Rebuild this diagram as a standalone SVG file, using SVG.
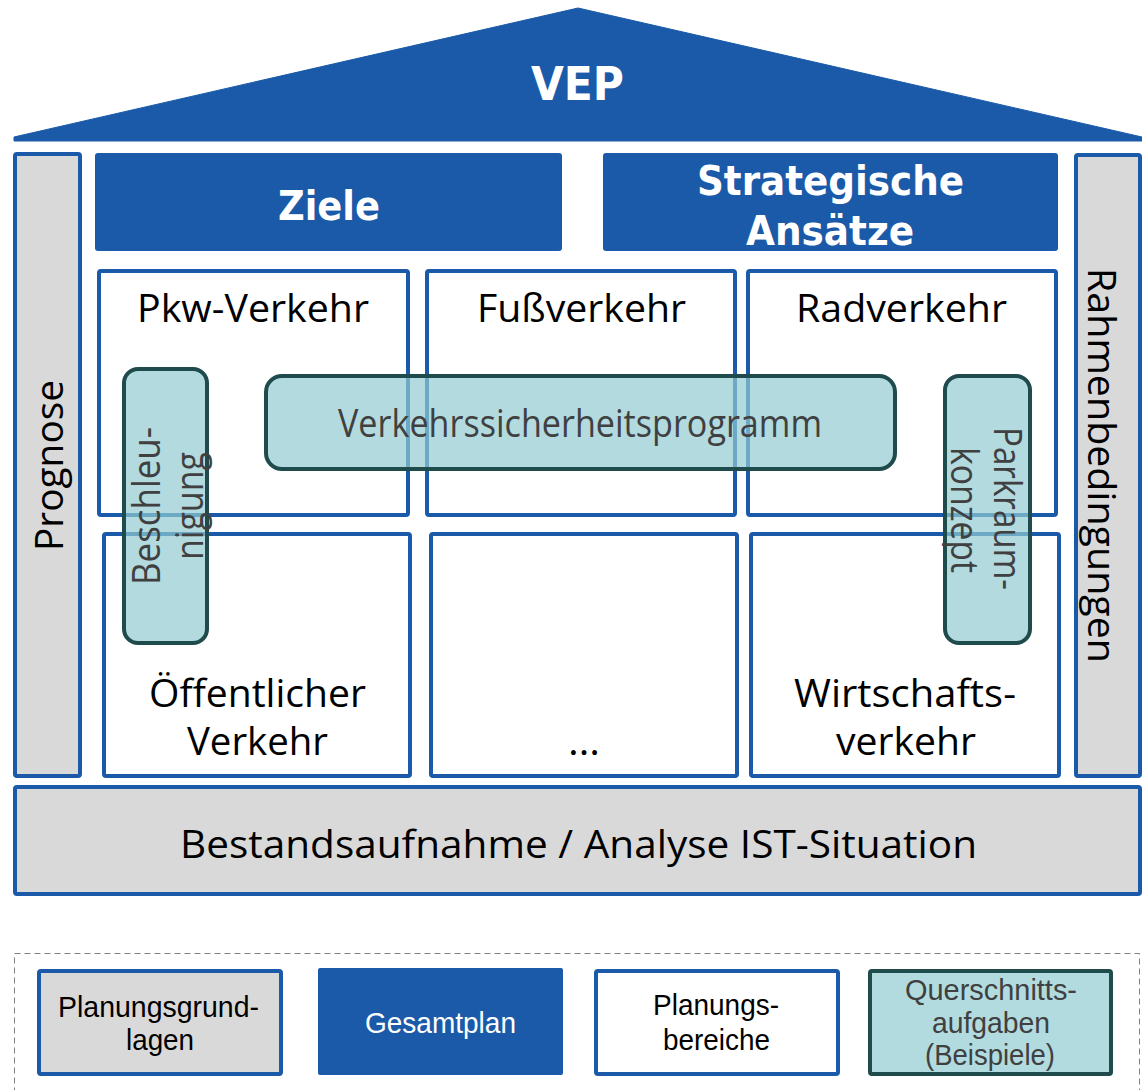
<svg xmlns="http://www.w3.org/2000/svg" width="1142" height="1090" viewBox="0 0 1142 1090">
<style>
.blue{fill:#1A5AA8}
.gray{fill:#D9D9D9;stroke:#1A5AA8;stroke-width:4}
.white{fill:#FFFFFF;stroke:#1A5AA8;stroke-width:4}
.teal{fill:#91CBD1;fill-opacity:0.7;stroke:#1F4B4C;stroke-width:4}
.tealL{fill:#B2DBDF;stroke:#1F4B4C;stroke-width:4}
.bold{font-family:"DejaVu Sans",Verdana,sans-serif;font-weight:bold;fill:#FFFFFF}
.lab{font-family:"Open Sans","DejaVu Sans",sans-serif;font-size:38px;fill:#000000}
.tlab{font-family:"Open Sans","DejaVu Sans",sans-serif;font-size:38px;fill:#404040}
.leg{font-family:"Liberation Sans",Arial,sans-serif;font-size:30px;fill:#000000}
</style>
<rect width="1142" height="1090" fill="#FFFFFF"/>

<g id="roof">
<polygon class="blue" points="14,137 578,8 1142,137 1142,141 14,141" stroke="#1A5AA8" stroke-width="1" stroke-linejoin="round"/>
<text class="bold" x="531" y="100" font-size="46" textLength="93" lengthAdjust="spacingAndGlyphs">VEP</text>
</g>

<g id="ziele">
<rect class="blue" x="95" y="153" width="467" height="98" rx="3"/>
<text class="bold" x="278" y="220" font-size="40" textLength="102" lengthAdjust="spacingAndGlyphs">Ziele</text>
</g>

<g id="strategische-ansaetze">
<rect class="blue" x="603" y="153" width="455" height="98" rx="3"/>
<text class="bold" x="697" y="195" font-size="40" textLength="267" lengthAdjust="spacingAndGlyphs">Strategische</text>
<text class="bold" x="746" y="245" font-size="40" textLength="168" lengthAdjust="spacingAndGlyphs">Ansätze</text>
</g>

<g id="prognose">
<rect class="gray" x="15" y="154" width="65" height="622" rx="2"/>
<text class="lab" transform="translate(63,551) rotate(-90)" textLength="171" lengthAdjust="spacingAndGlyphs">Prognose</text>
</g>

<g id="rahmenbedingungen">
<rect class="gray" x="1076" y="155" width="64" height="621" rx="2"/>
<text class="lab" transform="translate(1088,268) rotate(90)" textLength="395" lengthAdjust="spacingAndGlyphs">Rahmenbedingungen</text>
</g>

<g id="pkw-verkehr">
<rect class="white" x="99" y="271" width="309" height="244" rx="2"/>
<text class="lab" x="137" y="322" textLength="232" lengthAdjust="spacingAndGlyphs">Pkw-Verkehr</text>
</g>

<g id="fussverkehr">
<rect class="white" x="427" y="271" width="308" height="244" rx="2"/>
<text class="lab" x="477" y="322" textLength="209" lengthAdjust="spacingAndGlyphs">Fußverkehr</text>
</g>

<g id="radverkehr">
<rect class="white" x="748" y="271" width="308" height="244" rx="2"/>
<text class="lab" x="796" y="322" textLength="211" lengthAdjust="spacingAndGlyphs">Radverkehr</text>
</g>

<g id="oeffentlicher-verkehr">
<rect class="white" x="104" y="534" width="306" height="242" rx="2"/>
<text class="lab" x="149" y="707" textLength="217" lengthAdjust="spacingAndGlyphs">Öffentlicher</text>
<text class="lab" x="187" y="755" textLength="141" lengthAdjust="spacingAndGlyphs">Verkehr</text>
</g>

<g id="weitere">
<rect class="white" x="431" y="534" width="306" height="242" rx="2"/>
<text class="lab" x="568" y="755" textLength="32" lengthAdjust="spacingAndGlyphs">…</text>
</g>

<g id="wirtschaftsverkehr">
<rect class="white" x="751" y="534" width="308" height="242" rx="2"/>
<text class="lab" x="794" y="707" textLength="222" lengthAdjust="spacingAndGlyphs">Wirtschafts-</text>
<text class="lab" x="836" y="755" textLength="140" lengthAdjust="spacingAndGlyphs">verkehr</text>
</g>

<g id="bestandsaufnahme">
<rect class="gray" x="15" y="787" width="1125" height="107" rx="2"/>
<text class="lab" x="180" y="858" font-size="42" textLength="797" lengthAdjust="spacingAndGlyphs">Bestandsaufnahme / Analyse IST-Situation</text>
</g>

<g id="beschleunigung">
<rect class="teal" x="124" y="369" width="83" height="274" rx="14"/>
<text class="tlab" transform="translate(160,585) rotate(-90)" textLength="158" lengthAdjust="spacingAndGlyphs">Beschleu-</text>
<text class="tlab" transform="translate(203,560) rotate(-90)" textLength="108" lengthAdjust="spacingAndGlyphs">nigung</text>
</g>

<g id="verkehrssicherheitsprogramm">
<rect class="teal" x="266" y="376" width="629" height="93" rx="16"/>
<text class="tlab" x="338" y="437" textLength="484" lengthAdjust="spacingAndGlyphs">Verkehrssicherheitsprogramm</text>
</g>

<g id="parkraumkonzept">
<rect class="teal" x="945" y="376" width="85" height="267" rx="14"/>
<text class="tlab" transform="translate(994,427) rotate(90)" textLength="163" lengthAdjust="spacingAndGlyphs">Parkraum-</text>
<text class="tlab" transform="translate(951,447) rotate(90)" textLength="126" lengthAdjust="spacingAndGlyphs">konzept</text>
</g>

<g id="legend">
<rect x="14.5" y="953.5" width="1125" height="145" fill="none" stroke="#808080" stroke-width="1" stroke-dasharray="6,4"/>
<g id="legend-planungsgrundlagen">
<rect class="gray" x="39" y="971" width="242" height="103" rx="2"/>
<text class="leg" x="58" y="1017" textLength="201" lengthAdjust="spacingAndGlyphs">Planungsgrund-</text>
<text class="leg" x="126" y="1050" textLength="68" lengthAdjust="spacingAndGlyphs">lagen</text>
</g>
<g id="legend-gesamtplan">
<rect class="blue" x="318" y="968" width="245" height="107" rx="2"/>
<text class="leg" x="365" y="1033" style="fill:#FFFFFF" textLength="151" lengthAdjust="spacingAndGlyphs">Gesamtplan</text>
</g>
<g id="legend-planungsbereiche">
<rect class="white" x="596" y="971" width="242" height="103" rx="2"/>
<text class="leg" x="653" y="1015" textLength="126" lengthAdjust="spacingAndGlyphs">Planungs-</text>
<text class="leg" x="663" y="1050" textLength="107" lengthAdjust="spacingAndGlyphs">bereiche</text>
</g>
<g id="legend-querschnittsaufgaben">
<rect class="tealL" x="870" y="971" width="241" height="103" rx="2"/>
<text class="leg" x="905" y="1000" style="fill:#404040" textLength="172" lengthAdjust="spacingAndGlyphs">Querschnitts-</text>
<text class="leg" x="932" y="1033" style="fill:#404040" textLength="118" lengthAdjust="spacingAndGlyphs">aufgaben</text>
<text class="leg" x="925" y="1065" style="fill:#404040" textLength="130" lengthAdjust="spacingAndGlyphs">(Beispiele)</text>
</g>
</g>
</svg>
